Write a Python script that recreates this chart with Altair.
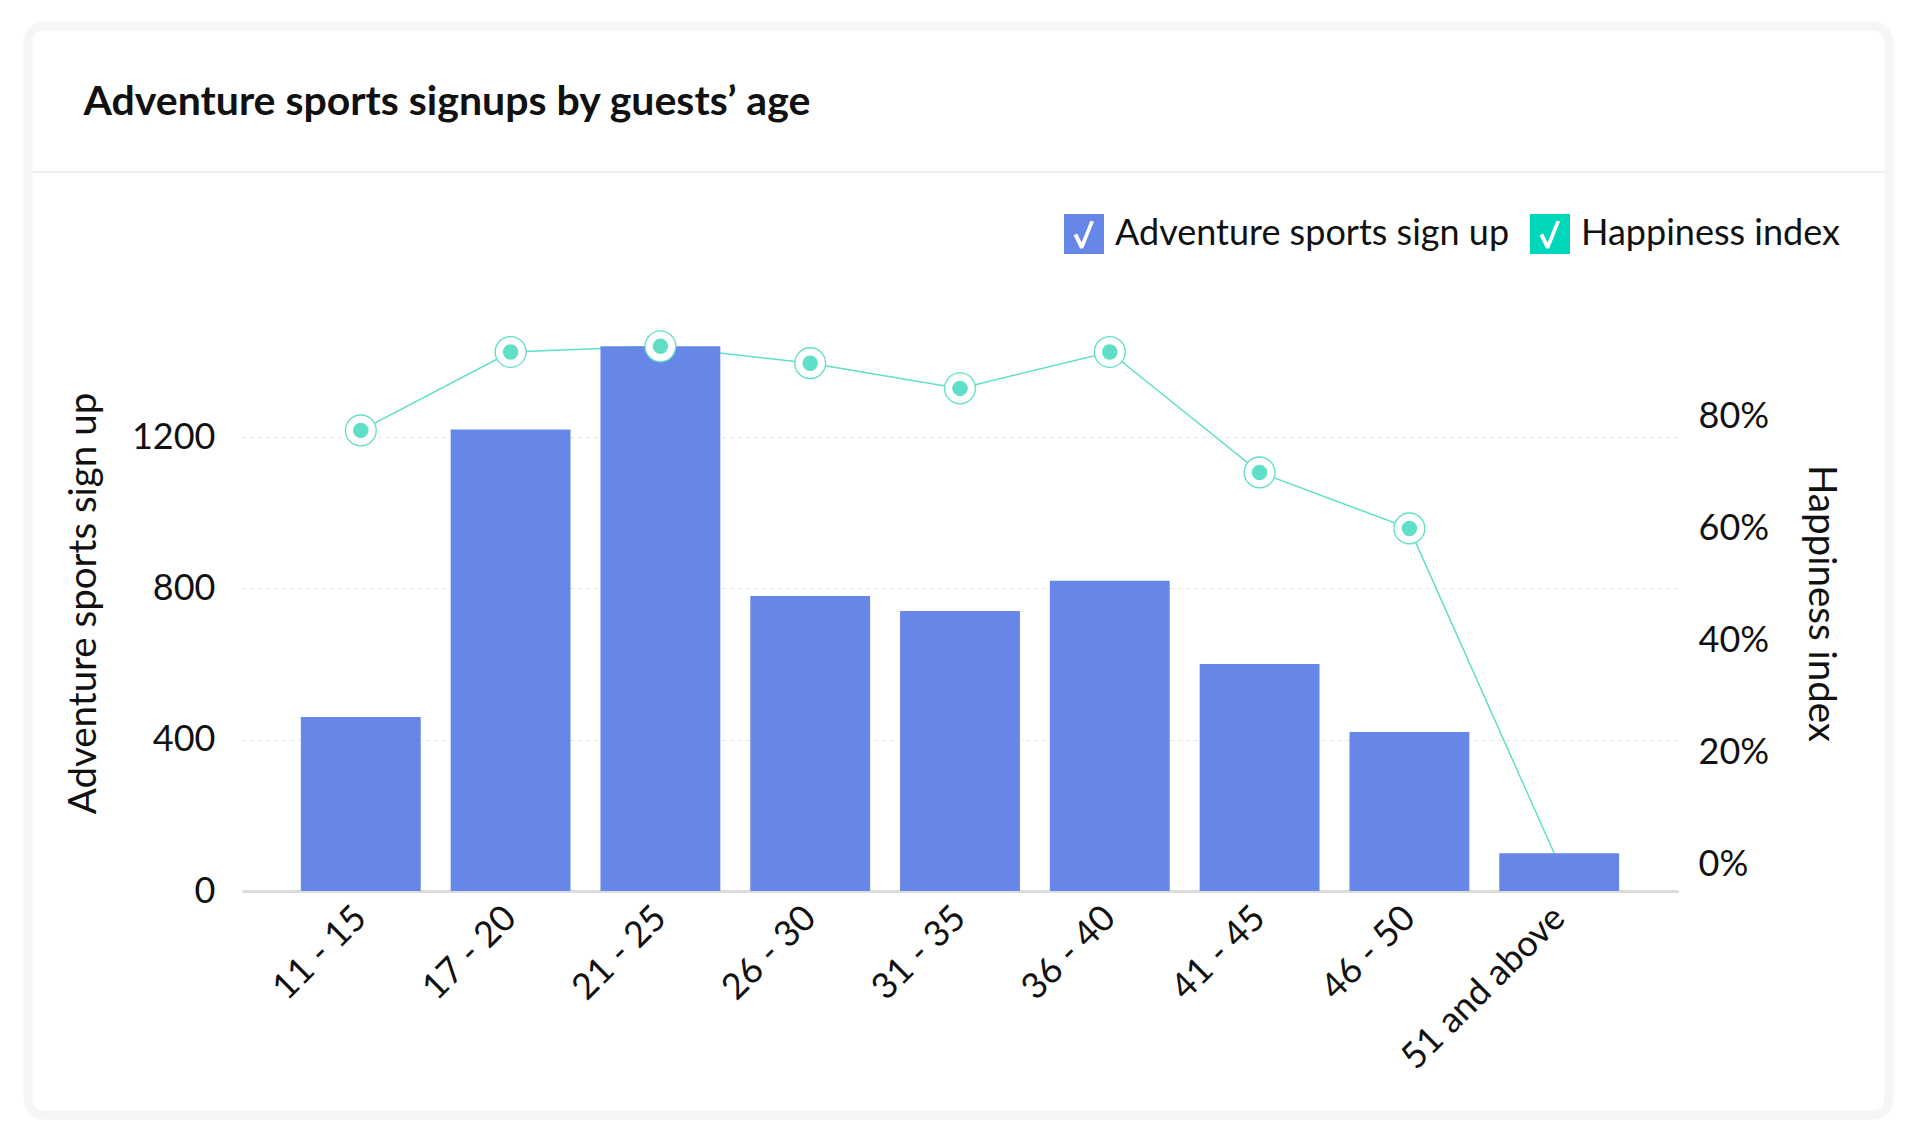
import altair as alt
import pandas as pd

# ---- data ----
age_groups = ["11 - 15", "17 - 20", "21 - 25", "26 - 30", "31 - 35",
              "36 - 40", "41 - 45", "46 - 50", "51 and above"]
signups = [460, 1220, 1440, 780, 740, 820, 600, 420, 100]
happiness = [0.775, 0.915, 0.925, 0.895, 0.85, 0.915, 0.70, 0.60, 0.0]
series_names = ["Adventure sports sign up", "Happiness index"]
series_colors = ["#6687e8", "#00d6b9"]

df = pd.DataFrame({
    "age": age_groups,
    "signups": signups,
    "happiness": happiness,
    "series": series_names[0],
})

FONT = "Lato"
TXT = "#111111"
LINE_COL = "#5fdfc7"

# square with a check-mark hole (legend symbol)
check_path = ("M-1,-1H1V1H-1Z "
              "M-0.2,0.72L-0.04,0.72L0.5,-0.62L0.32,-0.66L-0.12,0.42"
              "L-0.34,-0.02L-0.52,0.06Z")

# ---- decoration: card frame and header separator (not data) ----
deco = alt.Data(values=[{}])
card = alt.Chart(deco).mark_rect(
    fillOpacity=0, stroke="#f6f6f6", strokeWidth=9, cornerRadius=16
).encode(x=alt.value(-214), x2=alt.value(1647),
         y=alt.value(-289), y2=alt.value(800))
separator = alt.Chart(deco).mark_rule(
    color="#e8e8e8", strokeWidth=1.5
).encode(x=alt.value(-210), x2=alt.value(1643), y=alt.value(-143))

x_enc = alt.X(
    "age:N", sort=age_groups,
    scale=alt.Scale(paddingInner=0.2, paddingOuter=0.393),
    axis=alt.Axis(title=None, labelAngle=-45, labelFontSize=36, labelFont=FONT,
                  labelColor=TXT, labelPadding=21, labelLimit=0, ticks=False,
                  domainColor="#dcdcdc", domainWidth=3, grid=False),
)

left_scale = alt.Scale(domain=[0, 1522.6], nice=False)
right_scale = alt.Scale(domain=[-0.0473, 0.981], nice=False, zero=False)

bars = alt.Chart(df).mark_bar().encode(
    x=x_enc,
    y=alt.Y("signups:Q", scale=left_scale,
            axis=alt.Axis(orient="left", title="Adventure sports sign up",
                          values=[0, 400, 800, 1200], format="d", grid=True,
                          gridDash=[4, 4], gridColor="#e6e6e6", gridWidth=1,
                          domain=False, ticks=False, labelFont=FONT,
                          labelFontSize=36, labelColor=TXT, labelPadding=27,
                          titleFont=FONT, titleFontSize=38.5,
                          titleFontWeight="normal", titleColor=TXT,
                          titlePadding=28)),
    color=alt.Color("series:N",
                    scale=alt.Scale(domain=series_names, range=series_colors),
                    legend=alt.Legend(title=None, orient="none", legendX=822,
                                      legendY=-101, direction="horizontal",
                                      symbolType=check_path, symbolSize=1600,
                                      symbolStrokeWidth=0, symbolOpacity=1,
                                      labelFont=FONT, labelFontSize=36,
                                      labelColor=TXT, labelOffset=11,
                                      columnPadding=20, labelLimit=0)),
)

line = alt.Chart(df).mark_line(color=LINE_COL, strokeWidth=1.5).encode(
    x=alt.X("age:N", sort=age_groups),
    y=alt.Y("happiness:Q", scale=right_scale,
            axis=alt.Axis(orient="right", title="Happiness index",
                          values=[0, 0.2, 0.4, 0.6, 0.8], format=".0%",
                          grid=False, domain=False, ticks=False,
                          labelFont=FONT, labelFontSize=36, labelColor=TXT,
                          labelPadding=20, titleFont=FONT, titleFontSize=38.5,
                          titleFontWeight="normal", titleColor=TXT,
                          titlePadding=32)),
)

rings = alt.Chart(df).transform_filter("datum.happiness > 0").mark_point(
    shape="circle", filled=True, fill="white", stroke=LINE_COL,
    strokeWidth=1.3, size=950, opacity=1,
).encode(
    x=alt.X("age:N", sort=age_groups),
    y=alt.Y("happiness:Q", scale=right_scale, axis=None),
)

dots = alt.Chart(df).transform_filter("datum.happiness > 0").mark_point(
    shape="circle", filled=True, color=LINE_COL, size=240, opacity=1,
).encode(
    x=alt.X("age:N", sort=age_groups),
    y=alt.Y("happiness:Q", scale=right_scale, axis=None),
)

chart = alt.layer(line, bars, rings, dots, separator, card).resolve_scale(
    y="independent"
).properties(
    width=1436, height=576,
    padding={"left": 242, "top": 315, "right": 242, "bottom": 251},
    autosize=alt.AutoSizeParams(type="none"),
    background="white",
    title=alt.TitleParams("Adventure sports signups by guests’ age",
                          anchor="start", frame="bounds", font=FONT,
                          fontSize=41, fontWeight="bold", color=TXT,
                          dx=60, offset=-102),
).configure_view(stroke=None)

chart.save("out.html", embed_options={"renderer": "svg", "actions": False})
